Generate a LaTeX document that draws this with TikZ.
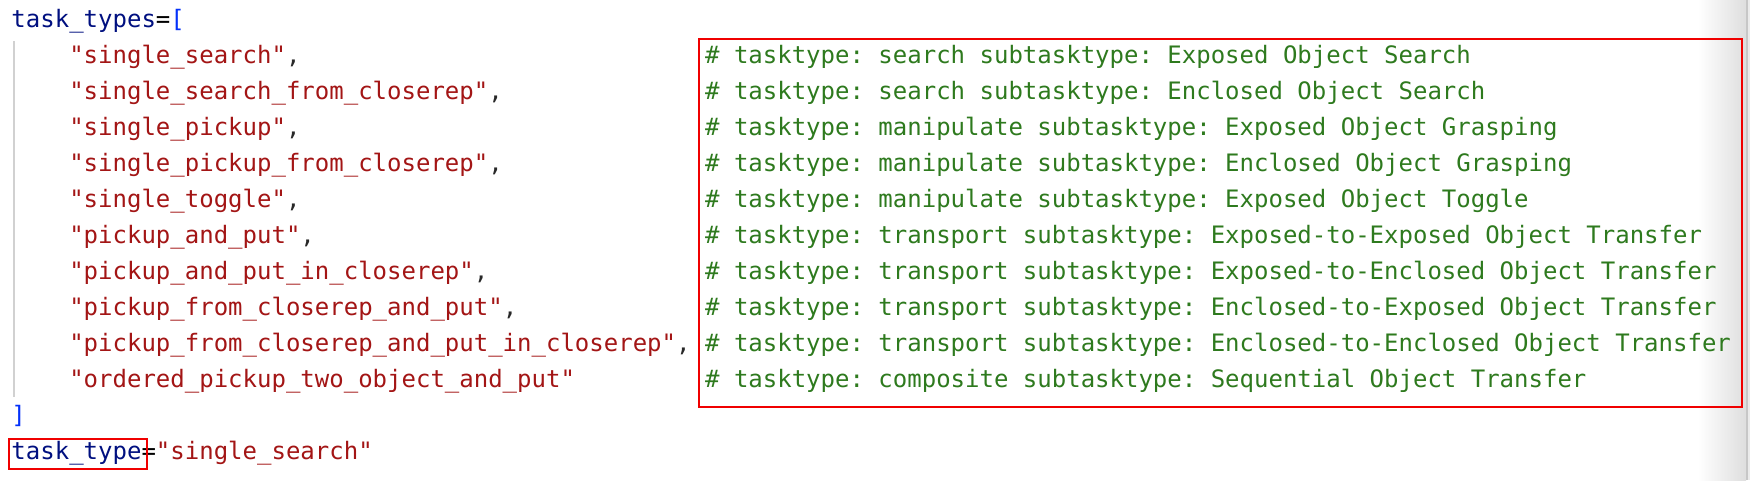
\documentclass[tikz,border=0pt]{standalone}
\usepackage{fontspec}
\newfontfamily\codefont{DejaVu Sans Mono}
\definecolor{kwnavy}{RGB}{0,16,128}
\definecolor{brblue}{RGB}{4,49,250}
\definecolor{strred}{RGB}{163,21,21}
\definecolor{cmtgreen}{RGB}{46,122,30}
\definecolor{punct}{RGB}{40,40,40}
\definecolor{boxred}{RGB}{240,0,0}
\tikzset{
  x=1pt, y=-1pt,
  codeline/.style={anchor=base west, inner sep=0pt, outer sep=0pt, font=\codefont\fontsize{24}{24}\selectfont\frenchspacing},
  strline/.style={codeline, text=strred},
  cmtline/.style={codeline, text=cmtgreen},
  hlbox/.style={draw=boxred, line width=1.6pt},
}
\newcommand{\cm}[1]{\textcolor{punct}{#1}}
\begin{document}
\begin{tikzpicture}
\useasboundingbox (0,0) rectangle (1750,480);
\fill[white] (0,0) rectangle (1750,480);
% right scrollbar shading
\shade[left color=white, right color=black!13] (1698,0) rectangle (1746,480);
\fill[black!22] (1746,0) rectangle (1748,480);
\fill[black!8] (1748,0) rectangle (1750,480);
% indent guide
\draw[black!18, line width=1.5pt] (14,41) -- (14,397);
% code lines
\def\xo{11.5}
\def\cw{14.45}
\node[codeline] (l0) at (\xo,27) {\textcolor{kwnavy}{task\_types}\textcolor{black}{=}\textcolor{brblue}{[}};
\node[strline] (s1) at ({\xo+4*\cw},63) {"single\_search"\cm{,}};
\node[strline] (s2) at ({\xo+4*\cw},99) {"single\_search\_from\_closerep"\cm{,}};
\node[strline] (s3) at ({\xo+4*\cw},135) {"single\_pickup"\cm{,}};
\node[strline] (s4) at ({\xo+4*\cw},171) {"single\_pickup\_from\_closerep"\cm{,}};
\node[strline] (s5) at ({\xo+4*\cw},207) {"single\_toggle"\cm{,}};
\node[strline] (s6) at ({\xo+4*\cw},243) {"pickup\_and\_put"\cm{,}};
\node[strline] (s7) at ({\xo+4*\cw},279) {"pickup\_and\_put\_in\_closerep"\cm{,}};
\node[strline] (s8) at ({\xo+4*\cw},315) {"pickup\_from\_closerep\_and\_put"\cm{,}};
\node[strline] (s9) at ({\xo+4*\cw},351) {"pickup\_from\_closerep\_and\_put\_in\_closerep"\cm{,}};
\node[strline] (s10) at ({\xo+4*\cw},387) {"ordered\_pickup\_two\_object\_and\_put"};
\node[codeline, text=brblue] (l11) at (\xo,423) {]};
\node[codeline] (l12) at (\xo,459) {\textcolor{kwnavy}{task\_type}\textcolor{black}{=}\textcolor{strred}{"single\_search"}};
% comments
\node[cmtline] (c1) at ({\xo+48*\cw},63) {\# tasktype: search subtasktype: Exposed Object Search};
\node[cmtline] (c2) at ({\xo+48*\cw},99) {\# tasktype: search subtasktype: Enclosed Object Search};
\node[cmtline] (c3) at ({\xo+48*\cw},135) {\# tasktype: manipulate subtasktype: Exposed Object Grasping};
\node[cmtline] (c4) at ({\xo+48*\cw},171) {\# tasktype: manipulate subtasktype: Enclosed Object Grasping};
\node[cmtline] (c5) at ({\xo+48*\cw},207) {\# tasktype: manipulate subtasktype: Exposed Object Toggle};
\node[cmtline] (c6) at ({\xo+48*\cw},243) {\# tasktype: transport subtasktype: Exposed-to-Exposed Object Transfer};
\node[cmtline] (c7) at ({\xo+48*\cw},279) {\# tasktype: transport subtasktype: Exposed-to-Enclosed Object Transfer};
\node[cmtline] (c8) at ({\xo+48*\cw},315) {\# tasktype: transport subtasktype: Enclosed-to-Exposed Object Transfer};
\node[cmtline] (c9) at ({\xo+48*\cw},351) {\# tasktype: transport subtasktype: Enclosed-to-Enclosed Object Transfer};
\node[cmtline] (c10) at ({\xo+48*\cw},387) {\# tasktype: composite subtasktype: Sequential Object Transfer};
% highlight boxes
\draw[hlbox] (699,39) rectangle (1742,407);
\draw[hlbox] (9,439) rectangle (147,469);
\end{tikzpicture}
\end{document}
